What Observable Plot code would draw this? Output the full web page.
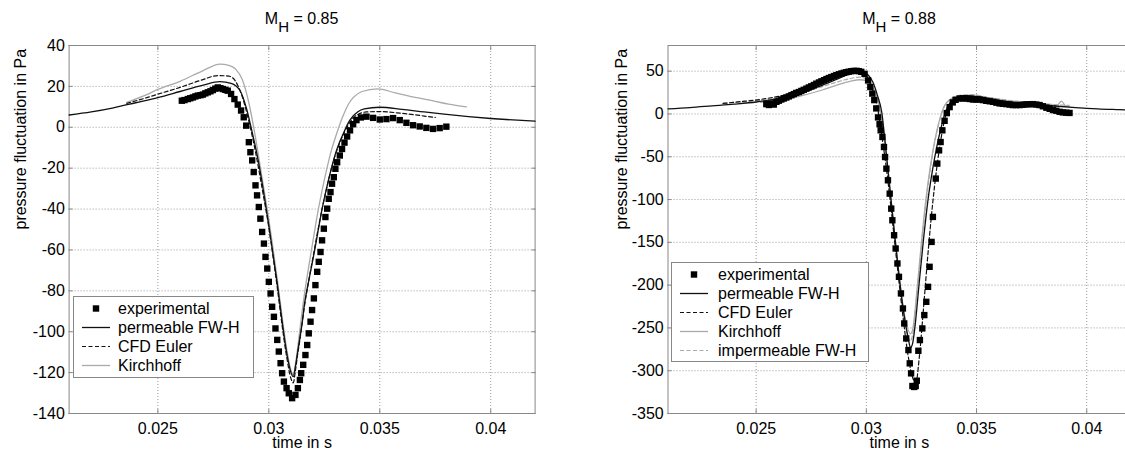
<!DOCTYPE html>
<html><head><meta charset="utf-8">
<script src="https://cdn.jsdelivr.net/npm/d3@7"></script>
<script src="https://cdn.jsdelivr.net/npm/@observablehq/plot@0.6"></script>
<style>
body{margin:0;background:#fff;}
#wrap{position:relative;width:1125px;height:450px;overflow:hidden;font-family:"Liberation Sans",Arial,Helvetica,sans-serif;color:#000;}
#wrap svg{max-width:none !important;}
.panel{position:absolute;top:0;}
.title{position:absolute;top:11px;font-size:16px;line-height:16px;transform:translateX(-50%);white-space:nowrap;}
.title .sub{font-size:15px;position:relative;top:8px;}
.legend{position:absolute;border:1px solid #888;background:#fff;font-size:16px;box-sizing:border-box;padding-top:2px;}
.row{height:19px;display:flex;align-items:center;white-space:nowrap;}
.row svg{flex:none;}
</style></head>
<body><div id="wrap"></div>
<script>
// ---------- data: time in s, pressure fluctuation in Pa ----------
const xTicks = [0.025, 0.03, 0.035, 0.04];
const leftYTicks = [-140, -120, -100, -80, -60, -40, -20, 0, 20, 40];
const rightYTicks = [-350, -300, -250, -200, -150, -100, -50, 0, 50];
const leftTitle = ["M", "H", " = 0.85"];
const rightTitle = ["M", "H", " = 0.88"];
const xLabel = "time in s";
const yLabel = "pressure fluctuation in Pa";
const leftLegend = ["experimental", "permeable FW-H", "CFD Euler", "Kirchhoff"];
const rightLegend = ["experimental", "permeable FW-H", "CFD Euler", "Kirchhoff", "impermeable FW-H"];

const leftExperimental = [[0.02608,13.0],[0.02620,13.3],[0.02635,13.8],[0.02646,14.2],[0.02658,14.6],[0.02669,15.1],[0.02680,15.5],[0.02692,15.7],[0.02703,16.0],[0.02714,16.6],[0.02725,17.1],[0.02737,17.6],[0.02748,18.2],[0.02759,18.9],[0.02770,19.5],[0.02782,19.1],[0.02793,18.7],[0.02804,18.3],[0.02815,17.9],[0.02830,16.3],[0.02845,13.8],[0.02860,11.1],[0.02875,8.2],[0.02887,4.9],[0.02898,0.8],[0.02910,-7.3],[0.02917,-12.2],[0.02925,-16.2],[0.02932,-21.9],[0.02940,-28.4],[0.02947,-33.3],[0.02955,-39.0],[0.02962,-44.7],[0.02970,-51.2],[0.02978,-56.9],[0.02985,-63.4],[0.02993,-69.1],[0.03000,-75.6],[0.03008,-81.3],[0.03015,-87.8],[0.03023,-92.7],[0.03030,-98.4],[0.03038,-104.0],[0.03045,-109.7],[0.03053,-115.4],[0.03060,-120.3],[0.03068,-124.4],[0.03080,-127.6],[0.03090,-130.1],[0.03105,-132.5],[0.03120,-130.9],[0.03131,-127.6],[0.03140,-123.6],[0.03146,-120.3],[0.03155,-116.2],[0.03165,-111.4],[0.03173,-106.5],[0.03180,-100.8],[0.03188,-95.1],[0.03195,-89.4],[0.03203,-83.7],[0.03210,-77.2],[0.03218,-70.7],[0.03225,-65.8],[0.03233,-61.0],[0.03240,-55.3],[0.03248,-49.6],[0.03255,-43.9],[0.03263,-39.8],[0.03270,-35.0],[0.03278,-31.7],[0.03285,-27.6],[0.03293,-24.4],[0.03300,-20.3],[0.03308,-17.1],[0.03320,-13.8],[0.03330,-10.6],[0.03341,-7.5],[0.03353,-4.5],[0.03366,-1.5],[0.03380,1.5],[0.03395,3.5],[0.03415,4.8],[0.03440,5.2],[0.03470,4.6],[0.03500,3.8],[0.03530,4.0],[0.03560,4.5],[0.03590,3.5],[0.03620,2.2],[0.03650,1.0],[0.03680,0.4],[0.03710,-0.3],[0.03740,-0.8],[0.03770,-0.4],[0.03800,0.3]];

const leftPermeable = [[0.0210,6.0],[0.0220,7.5],[0.0230,9.5],[0.0240,12.0],[0.0250,14.5],[0.0260,17.5],[0.0270,20.5],[0.0278,22.3],[0.0283,21.5],[0.0287,18.0],[0.0290,9.0],[0.0292,0.0],[0.0295,-15],[0.0298,-34],[0.0300,-48],[0.0302,-63],[0.0304,-78],[0.0306,-95],[0.0308,-110],[0.0310,-120],[0.0311,-122],[0.0312,-117],[0.0313,-110],[0.0314,-103],[0.0315,-96],[0.0316,-87],[0.0318,-75],[0.0320,-64],[0.0322,-52],[0.0324,-40],[0.0326,-30],[0.0328,-21],[0.0330,-13],[0.0332,-7],[0.0334,-2],[0.0336,2.5],[0.0338,5.5],[0.0340,7.5],[0.0343,9.0],[0.0350,9.8],[0.0360,8.8],[0.0370,7.5],[0.0380,6.3],[0.0390,5.2],[0.0400,4.3],[0.0410,3.6],[0.0420,3.0]];

const leftEuler = [[0.0236,11.7],[0.0245,14.5],[0.0250,16.2],[0.0260,19.5],[0.0270,23.2],[0.0277,25.3],[0.0282,25.0],[0.0285,22.5],[0.0288,15],[0.0291,3],[0.0294,-12],[0.0297,-30],[0.0300,-49],[0.0302,-64],[0.0304,-80],[0.0306,-97],[0.0308,-112],[0.0310,-123],[0.0311,-125],[0.0312,-119],[0.0313,-111],[0.0314,-104],[0.0315,-96],[0.0316,-88],[0.0318,-75],[0.0320,-63],[0.0322,-51],[0.0324,-40],[0.0326,-30],[0.0328,-21],[0.0330,-13.5],[0.0332,-7.5],[0.0334,-2.5],[0.0336,1.5],[0.0338,4.5],[0.0340,6.2],[0.0344,7.5],[0.0350,7.7],[0.0360,6.8],[0.0370,5.5],[0.0375,4.8]];

const leftKirchhoff = [[0.0236,12.2],[0.0245,16.0],[0.0250,18.5],[0.0260,22.5],[0.0270,27.5],[0.0278,30.9],[0.0282,30.3],[0.0285,28.5],[0.0288,23.5],[0.0291,12],[0.0294,-5],[0.0297,-25],[0.0300,-45],[0.0302,-60],[0.0304,-76],[0.0306,-93],[0.0308,-108],[0.0310,-119],[0.0311,-121],[0.0312,-116],[0.0313,-108],[0.0314,-99],[0.0316,-82],[0.0318,-68],[0.0320,-55],[0.0322,-42],[0.0324,-31],[0.0326,-21],[0.0328,-12],[0.0330,-5],[0.0332,1.5],[0.0334,7],[0.0336,11.5],[0.0338,14.5],[0.0342,17.5],[0.0349,18.8],[0.0357,16.8],[0.0366,14.6],[0.0375,12.7],[0.0381,11.3],[0.0389,10.0]];

const rightExperimental = [[0.02546,11.5],[0.02558,10.5],[0.02569,12.3],[0.02580,11.0],[0.02592,14.2],[0.02603,15.5],[0.02614,16.9],[0.02625,18.0],[0.02637,19.2],[0.02648,20.5],[0.02660,21.9],[0.02671,23.2],[0.02682,24.6],[0.02694,25.6],[0.02705,26.9],[0.02716,28.2],[0.02728,29.6],[0.02739,31.0],[0.02750,32.3],[0.02762,33.8],[0.02773,35.4],[0.02785,36.8],[0.02796,38.1],[0.02808,39.5],[0.02819,40.8],[0.02830,42.0],[0.02841,43.1],[0.02853,44.3],[0.02864,45.4],[0.02876,46.4],[0.02887,47.3],[0.02898,48.1],[0.02909,48.8],[0.02920,49.4],[0.02932,50.0],[0.02943,50.3],[0.02955,50.4],[0.02966,50.0],[0.02977,49.2],[0.02992,46.9],[0.03008,39.2],[0.03018,31.5],[0.03027,23.8],[0.03036,16.2],[0.03045,6.5],[0.03053,-4],[0.03060,-12],[0.03065,-19.1],[0.03073,-26.9],[0.03080,-38.6],[0.03085,-50.3],[0.03091,-63.9],[0.03098,-77.5],[0.03106,-93.1],[0.03113,-110.6],[0.03118,-124.2],[0.03126,-141.7],[0.03133,-157.2],[0.03141,-174.7],[0.03148,-190.3],[0.03157,-209.7],[0.03166,-227.3],[0.03172,-244.8],[0.03181,-262.3],[0.03191,-275.9],[0.03197,-291.4],[0.03203,-303.1],[0.03209,-317.9],[0.03217,-319.0],[0.03224,-317.9],[0.03229,-311.7],[0.03236,-276.7],[0.03243,-264.2],[0.03254,-250.6],[0.03263,-235.0],[0.03272,-219.5],[0.03280,-202.0],[0.03287,-178.6],[0.03296,-149.5],[0.03302,-120.3],[0.03315,-75.5],[0.03322,-58.0],[0.03330,-42.5],[0.03337,-32.8],[0.03345,-19.1],[0.03355,-8],[0.03365,1],[0.03378,8],[0.03392,13.5],[0.03405,16.5],[0.03423,18.1],[0.03438,18.2],[0.03454,18.1],[0.03469,17.5],[0.03484,16.9],[0.03499,16.9],[0.03514,16.9],[0.03529,16.2],[0.03544,15.4],[0.03560,14.8],[0.03575,14.2],[0.03590,13.2],[0.03605,12.3],[0.03620,11.9],[0.03635,11.5],[0.03650,11.0],[0.03665,10.4],[0.03680,10.4],[0.03696,10.4],[0.03711,10.8],[0.03726,11.2],[0.03741,11.4],[0.03756,11.5],[0.03771,11.0],[0.03786,10.4],[0.03801,9.0],[0.03817,7.3],[0.03832,6.0],[0.03847,4.6],[0.03862,3.8],[0.03877,2.5],[0.03892,1.8],[0.03907,1.5],[0.03922,1.2]];

const rightPermeable = [[0.0210,6.0],[0.0220,7.5],[0.0230,9.5],[0.0240,11.5],[0.0250,14.0],[0.0260,18.0],[0.0270,24.0],[0.0280,33.5],[0.0287,41.0],[0.0292,46.5],[0.0296,49.5],[0.0299,48.5],[0.0301,45.0],[0.0303,37.0],[0.0305,22.0],[0.0307,2.0],[0.0309,-45],[0.0311,-95],[0.0313,-145],[0.0315,-192],[0.0317,-233],[0.0319,-262],[0.0320,-273],[0.0321,-268],[0.0322,-250],[0.0324,-197],[0.0326,-145],[0.0328,-100],[0.0330,-66],[0.0332,-38],[0.0334,-15],[0.0336,3],[0.0338,13],[0.0341,19],[0.0345,21.5],[0.0350,20],[0.0357,17],[0.0365,14],[0.0373,12],[0.0380,10.5],[0.0387,9],[0.0395,7.5],[0.0405,6],[0.0415,5],[0.0420,4.5]];

const rightEuler = [[0.0235,12.3],[0.0245,15.0],[0.0252,17.0],[0.0260,20.5],[0.0270,27.0],[0.0280,37.0],[0.0287,45.0],[0.0291,49.5],[0.0294,51.5],[0.0297,50.5],[0.0299,47.5],[0.0301,40.0],[0.0303,27.0],[0.0305,8.0],[0.0307,-25],[0.0309,-62],[0.0311,-105],[0.0313,-153],[0.0315,-200],[0.0317,-245],[0.0319,-283],[0.0321,-308],[0.03225,-314],[0.0324,-285],[0.0326,-225],[0.0328,-162],[0.0330,-107],[0.0332,-62],[0.0334,-27],[0.0336,-2],[0.0338,11],[0.0341,18.5],[0.0345,21.5],[0.0350,20.5],[0.0358,16.5],[0.0366,13.5],[0.0374,11.5],[0.0382,10],[0.0386,9.2]];

const rightKirchhoff = [[0.0252,13.5],[0.0260,16.0],[0.0270,21.0],[0.0280,28.0],[0.0287,34.0],[0.0293,38.5],[0.0297,40.0],[0.0300,39.0],[0.0302,35.0],[0.0304,25.0],[0.0306,8.0],[0.0308,-25],[0.0310,-70],[0.0312,-120],[0.0314,-170],[0.0316,-213],[0.0318,-243],[0.0320,-257],[0.0321,-252],[0.0323,-205],[0.0325,-150],[0.0327,-100],[0.0329,-62],[0.0331,-32],[0.0333,-9],[0.0335,7],[0.0338,17],[0.0343,21.5],[0.0348,22],[0.0355,19],[0.0363,16],[0.0372,13.5],[0.0380,12],[0.03865,10],[0.03885,15],[0.03905,9.5],[0.0392,9.2]];

const rightImpermeable = [[0.0235,12.5],[0.0245,14.5],[0.0255,16.5],[0.0265,21.0],[0.0275,28.0],[0.0285,36.0],[0.0292,41.0],[0.0297,43.0],[0.0300,41.0],[0.0302,36.0],[0.0304,25.0],[0.0306,6.0],[0.0308,-30],[0.0310,-75],[0.0312,-125],[0.0314,-175],[0.0316,-220],[0.0318,-252],[0.0320,-265],[0.0321,-258],[0.0323,-210],[0.0325,-155],[0.0327,-105],[0.0329,-65],[0.0331,-33],[0.0333,-10],[0.0335,7],[0.0338,17],[0.0343,22],[0.0348,22.5],[0.0355,19.5],[0.0363,16.5],[0.0372,14],[0.0380,12],[0.0388,10.5],[0.0392,10]];

// ---------- styles ----------
const FONT = '"Liberation Sans", Arial, Helvetica, sans-serif';
const STY = {
  "experimental": {type: "dot"},
  "permeable FW-H": {stroke: "#111", dash: null, width: 1.3},
  "CFD Euler": {stroke: "#111", dash: "4,2.5", width: 1.2},
  "Kirchhoff": {stroke: "#aaa", dash: null, width: 1.3},
  "impermeable FW-H": {stroke: "#aaa", dash: "4,2.5", width: 1.2}
};

function panel({width, marginLeft, marginRight, yDomain, yTicks, lines, exp, yLabelDx}) {
  const fx = d => d[0], fy = d => d[1];
  return Plot.plot({
    width, height: 450, marginTop: 45, marginBottom: 37, marginLeft, marginRight,
    style: {fontFamily: FONT, fontSize: "16px", color: "#000", background: "transparent", overflow: "visible", maxWidth: "none"},
    x: {domain: [0.021, 0.042]},
    y: {domain: yDomain},
    marks: [
      Plot.gridX({ticks: xTicks, stroke: "#9a9a9a", strokeOpacity: 1, strokeDasharray: "1,2"}),
      Plot.gridY({ticks: yTicks, stroke: "#9a9a9a", strokeOpacity: 1, strokeDasharray: "1,2"}),
      Plot.frame({stroke: "#888"}),
      Plot.axisX({ticks: xTicks, anchor: "bottom", tickSize: -4, tickPadding: 12.7, tickFormat: d => String(d), label: null, stroke: "#888", fill: "#000"}),
      Plot.axisX({ticks: xTicks, anchor: "top", tickSize: -4, tickFormat: () => "", label: null, stroke: "#888"}),
      Plot.axisY({ticks: yTicks, anchor: "left", tickSize: -4, tickPadding: 8.3, tickFormat: d => String(d), label: null, stroke: "#888", fill: "#000"}),
      Plot.axisY({ticks: yTicks, anchor: "right", tickSize: -4, tickFormat: () => "", label: null, stroke: "#888"}),
      ...lines.map(([name, data]) => Plot.line(data, {x: fx, y: fy, stroke: STY[name].stroke, strokeWidth: STY[name].width, strokeDasharray: STY[name].dash, curve: "monotone-x"})),
      Plot.dot(exp, {x: fx, y: fy, symbol: "square", r: 3.6, fill: "#000", stroke: null}),
      Plot.text([yLabel], {frameAnchor: "left", rotate: -90, dx: yLabelDx, fontSize: 16}),
      Plot.text([xLabel], {frameAnchor: "bottom", lineAnchor: "top", dy: 23.5, fontSize: 16})
    ]
  });
}

const wrap = document.getElementById("wrap");

function addPanel(left, cfg) {
  const div = document.createElement("div");
  div.className = "panel";
  div.style.left = left + "px";
  div.style.width = cfg.width + "px";
  div.appendChild(panel(cfg));
  wrap.appendChild(div);
}

addPanel(0, {width: 565, marginLeft: 68.6, marginRight: 30.4, yDomain: [-140, 40], yTicks: leftYTicks,
  lines: [["Kirchhoff", leftKirchhoff], ["CFD Euler", leftEuler], ["permeable FW-H", leftPermeable]],
  exp: leftExperimental, yLabelDx: -48});
addPanel(565, {width: 600, marginLeft: 102.5, marginRight: 34.7, yDomain: [-350, 80], yTicks: rightYTicks,
  lines: [["impermeable FW-H", rightImpermeable], ["Kirchhoff", rightKirchhoff], ["CFD Euler", rightEuler], ["permeable FW-H", rightPermeable]],
  exp: rightExperimental, yLabelDx: -46});

function addTitle(cx, parts) {
  const t = document.createElement("div");
  t.className = "title";
  t.style.left = cx + "px";
  t.append(parts[0]);
  const s = document.createElement("span"); s.className = "sub"; s.textContent = parts[1];
  t.append(s);
  t.append(parts[2]);
  wrap.appendChild(t);
}
addTitle(301.6, leftTitle);
addTitle(899, rightTitle);

function addLegend(box, names, sampleLeft, gap) {
  const lg = document.createElement("div");
  lg.className = "legend";
  Object.assign(lg.style, {left: box[0] + "px", top: box[1] + "px", width: box[2] + "px", height: box[3] + "px"});
  for (const name of names) {
    const row = document.createElement("div");
    row.className = "row";
    const svg = d3.create("svg").attr("width", 28).attr("height", 19).style("margin-left", sampleLeft + "px").style("margin-right", gap + "px");
    const st = STY[name];
    if (st.type === "dot") {
      svg.append("rect").attr("x", 14 - 3.2).attr("y", 9.5 - 3.2).attr("width", 6.4).attr("height", 6.4).attr("fill", "#000");
    } else {
      svg.append("line").attr("x1", 0).attr("x2", 28).attr("y1", 9.5).attr("y2", 9.5)
        .attr("stroke", st.stroke).attr("stroke-width", st.width).attr("stroke-dasharray", st.dash);
    }
    row.appendChild(svg.node());
    const sp = document.createElement("span"); sp.textContent = name;
    row.appendChild(sp);
    lg.appendChild(row);
  }
  wrap.appendChild(lg);
}
addLegend([73, 296, 181, 82], leftLegend, 8, 8);
addLegend([671, 262, 198, 100], rightLegend, 8, 10);
</script>
</body></html>
